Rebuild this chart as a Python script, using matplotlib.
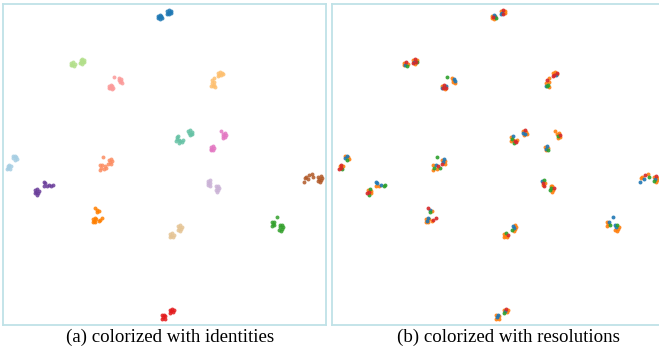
import matplotlib
matplotlib.use("Agg")
import matplotlib.pyplot as plt

# t-SNE points per identity: (x, y, resolution index)
c_blue = [(-2.0, 46.3, 1), (-1.5, 46.6, 0), (-1.0, 46.4, 1), (-1.7, 45.8, 3), (-1.2, 45.9, 0),
          (-1.5, 45.2, 1), (-0.8, 45.5, 2), (-2.1, 45.6, 1), (0.9, 47.9, 1), (1.5, 48.2, 3),
          (2.0, 47.8, 1), (1.1, 47.3, 0), (1.7, 47.4, 1), (1.3, 46.8, 3), (2.1, 47.1, 1), (0.8, 46.9, 0)]
c_lightgreen = [(-28.8, 31.6, 1), (-28.2, 31.9, 3), (-27.8, 31.3, 1), (-28.5, 31.0, 0), (-28.0, 30.7, 2),
                (-28.9, 30.9, 1), (-26.0, 32.6, 1), (-25.4, 33.0, 3), (-24.9, 32.5, 1), (-25.7, 32.0, 0),
                (-25.1, 31.8, 3), (-25.6, 31.4, 1), (-24.8, 31.9, 2), (-26.1, 31.7, 3)]
c_salmon = [(-17.2, 24.4, 1), (-16.6, 24.7, 3), (-16.1, 24.3, 0), (-16.9, 23.8, 3), (-16.3, 23.6, 1),
            (-17.3, 23.7, 0), (-15.9, 23.9, 3), (-14.1, 27.0, 1), (-13.5, 26.7, 0), (-14.0, 26.2, 1),
            (-13.4, 26.0, 0), (-13.9, 25.6, 1), (-13.3, 25.3, 1), (-15.6, 27.3, 2)]
c_lightorange = [(15.3, 26.8, 1), (14.8, 26.2, 3), (15.4, 25.7, 1), (14.6, 25.3, 1), (15.2, 24.9, 2),
                 (14.9, 24.3, 2), (15.5, 24.0, 1), (14.5, 24.6, 0), (16.6, 28.6, 1), (17.2, 28.9, 1),
                 (17.8, 28.5, 3), (16.9, 28.0, 3), (17.5, 27.8, 0), (18.0, 28.1, 1), (16.7, 27.5, 3)]
c_teal = [(3.8, 8.6, 1), (4.3, 8.9, 0), (4.0, 8.0, 2), (4.5, 7.7, 1), (3.7, 7.4, 1), (4.9, 7.2, 3),
          (5.5, 6.9, 3), (4.6, 6.6, 2), (5.8, 7.5, 1), (7.4, 10.3, 1), (8.0, 10.6, 3), (8.5, 10.2, 1),
          (7.6, 9.8, 0), (8.2, 9.6, 0), (7.8, 9.1, 1), (8.6, 9.4, 1)]
c_pink = [(18.0, 9.6, 1), (18.6, 9.9, 1), (18.9, 9.3, 3), (18.2, 9.0, 2), (18.7, 8.6, 1), (18.1, 8.4, 1),
          (17.4, 10.4, 1), (14.3, 5.5, 1), (14.9, 5.7, 0), (15.2, 5.1, 1), (14.5, 4.9, 0), (15.0, 4.5, 2),
          (14.4, 4.5, 1)]
c_lightblue = [(-48.6, -0.4, 1), (-48.0, -0.1, 3), (-47.6, -0.6, 1), (-48.3, -1.0, 3), (-47.8, -1.4, 2),
               (-48.7, -1.3, 3), (-47.0, 2.5, 1), (-46.4, 2.7, 0), (-46.0, 2.2, 1), (-46.8, 1.9, 0),
               (-46.3, 1.5, 2), (-45.8, 1.7, 1)]
c_coral = [(-19.9, -0.3, 1), (-19.2, 0.0, 0), (-18.5, -0.5, 3), (-19.6, -1.2, 2), (-18.8, -1.5, 1),
           (-18.0, -1.1, 2), (-20.0, -1.8, 1), (-17.3, 1.4, 1), (-16.7, 1.6, 0), (-16.3, 1.0, 1),
           (-17.0, 0.7, 0), (-16.5, 0.3, 1), (-17.4, 0.2, 3), (-18.9, 2.3, 2)]
c_brown = [(43.2, -5.5, 0), (43.8, -3.9, 1), (44.7, -3.3, 3), (45.7, -3.0, 1), (44.4, -4.5, 0),
           (46.0, -4.0, 2), (43.6, -4.2, 1), (47.6, -3.8, 1), (48.3, -3.6, 3), (48.8, -4.2, 1),
           (47.8, -4.5, 0), (48.5, -4.9, 1), (47.5, -5.2, 2), (48.1, -5.5, 1)]
c_purple = [(-40.0, -7.9, 1), (-39.4, -7.6, 2), (-39.0, -8.2, 1), (-39.7, -8.6, 3), (-39.1, -9.0, 1),
            (-40.2, -8.9, 3), (-39.6, -9.6, 2), (-37.4, -5.4, 0), (-37.0, -5.9, 0), (-36.5, -6.6, 1),
            (-35.8, -6.5, 0), (-35.1, -6.6, 2), (-34.6, -6.4, 2), (-37.3, -6.6, 1)]
c_lightpurple = [(13.4, -5.0, 0), (14.0, -4.8, 2), (13.6, -5.7, 3), (14.2, -5.9, 1), (13.5, -6.4, 1),
                 (14.0, -6.7, 3), (15.9, -6.8, 1), (16.5, -6.6, 1), (16.9, -7.2, 3), (16.1, -7.4, 2),
                 (16.6, -7.9, 1), (15.8, -8.0, 2), (16.3, -8.5, 1)]
c_orange = [(-21.5, -13.6, 3), (-20.8, -14.1, 0), (-20.2, -14.6, 1), (-21.0, -14.8, 2), (-22.1, -16.9, 1),
            (-21.6, -16.6, 0), (-21.2, -17.1, 1), (-21.9, -17.5, 0), (-21.4, -17.8, 1), (-22.2, -18.0, 1),
            (-19.9, -17.2, 3), (-19.2, -16.6, 3), (-20.4, -17.5, 1)]
c_tan = [(1.8, -21.6, 1), (2.4, -21.4, 2), (2.8, -21.9, 3), (2.0, -22.2, 1), (2.5, -22.6, 1),
         (1.6, -22.5, 1), (4.3, -19.2, 0), (4.9, -19.0, 1), (5.3, -19.5, 1), (4.6, -19.8, 0),
         (5.1, -20.2, 1), (4.2, -20.3, 2), (4.7, -20.7, 1)]
c_green = [(33.2, -18.0, 1), (33.8, -17.9, 0), (33.5, -18.6, 1), (34.0, -18.9, 2), (33.3, -19.2, 1),
           (35.7, -19.0, 0), (36.3, -18.8, 2), (36.7, -19.4, 1), (35.9, -19.6, 0), (36.4, -20.1, 1),
           (35.6, -20.3, 1), (36.1, -20.7, 1), (34.9, -16.4, 0)]
c_red = [(-0.7, -47.0, 1), (-0.1, -46.8, 0), (0.3, -47.3, 1), (-0.5, -47.6, 0), (0.0, -48.0, 1),
         (-0.8, -48.1, 1), (1.8, -45.2, 1), (2.4, -44.9, 3), (2.9, -45.3, 1), (2.1, -45.7, 0),
         (2.6, -46.1, 1), (1.7, -46.2, 2)]

clusters = [c_blue, c_lightgreen, c_salmon, c_lightorange, c_teal, c_pink, c_lightblue, c_coral,
            c_brown, c_purple, c_lightpurple, c_orange, c_tan, c_green, c_red]
identity_colors = ["#1f78b4", "#b2df8a", "#fb9a99", "#fdbf6f", "#66c2a5", "#e377c2", "#a6cee3",
                   "#fc8d62", "#b15928", "#6a3d9a", "#cab2d6", "#ff7f00", "#e5c494", "#33a02c", "#e31a1c"]
resolution_colors = ["#1f77b4", "#ff7f0e", "#2ca02c", "#d62728"]
draw_order = [1, 0, 2, 3]
captions = ["(a) colorized with identities", "(b) colorized with resolutions"]

BORDER = "#bfe2e7"
SIZE = 8

fig = plt.figure(figsize=(6.59, 3.5), dpi=100)
ax_a = fig.add_axes([3 / 659, 25 / 350, 323 / 659, 321 / 350])
ax_b = fig.add_axes([332 / 659, 25 / 350, 333 / 659, 321 / 350])

# left: one colour per identity
for pts, col in zip(clusters, identity_colors):
    ax_a.scatter([p[0] for p in pts], [p[1] for p in pts], s=SIZE, color=col,
                 linewidths=0, alpha=0.85)

# right: colour by resolution
all_pts = [p for pts in clusters for p in pts]
for r in draw_order:
    sel = [p for p in all_pts if p[2] == r]
    ax_b.scatter([p[0] for p in sel], [p[1] for p in sel], s=SIZE,
                 color=resolution_colors[r], linewidths=0, alpha=0.9)

ax_a.set_xlim(-50, 50)
ax_b.set_xlim(-50.9, 50.9)
for ax in (ax_a, ax_b):
    ax.set_ylim(-50, 50)
    ax.set_xticks([])
    ax.set_yticks([])
    for sp in ax.spines.values():
        sp.set_color(BORDER)
        sp.set_linewidth(1.3)

fig.text(170 / 659, 13 / 350, captions[0], ha="center", va="center",
         family=["Liberation Serif", "DejaVu Serif"], fontsize=13.6)
fig.text(508 / 659, 13 / 350, captions[1], ha="center", va="center",
         family=["Liberation Serif", "DejaVu Serif"], fontsize=13.6)

fig.savefig("out.png", dpi=100)
